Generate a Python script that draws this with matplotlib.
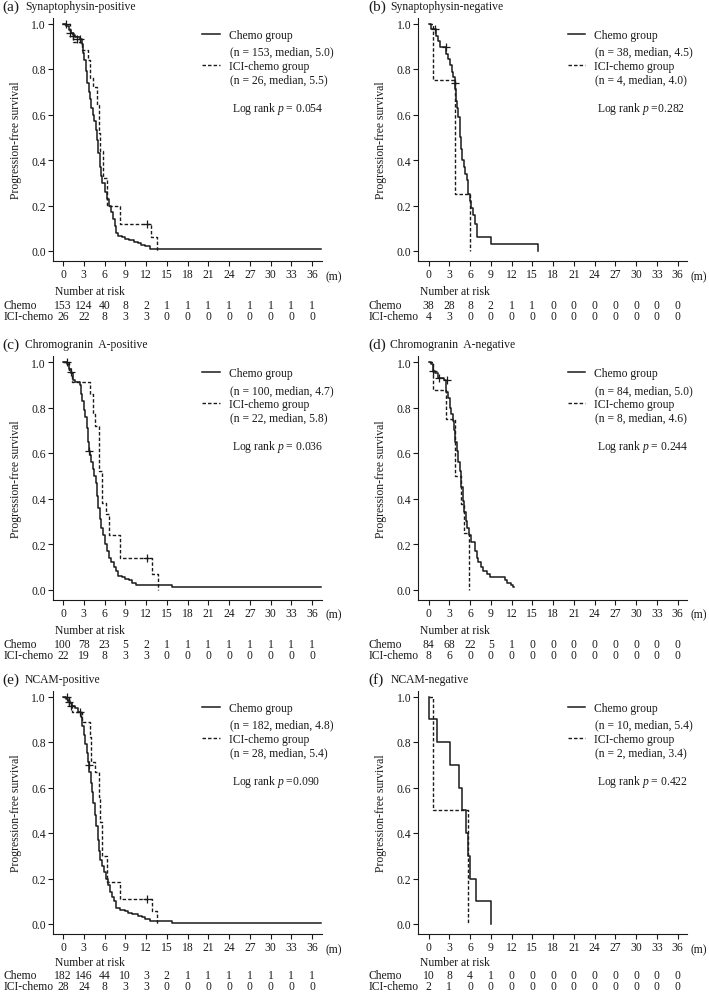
import matplotlib
matplotlib.use('Agg')
import matplotlib.pyplot as plt

plt.rcParams['font.family'] = ['Liberation Serif', 'DejaVu Serif']
plt.rcParams['mathtext.fontset'] = 'custom'
plt.rcParams['mathtext.rm'] = 'Liberation Serif'
plt.rcParams['mathtext.it'] = 'Liberation Serif:italic'

INK = '#1a1a1a'
FS = 8.4

# ---- data: (months, survival) step points ----
chemo_a = [(0, 1.0), (0.5, 0.99), (0.8, 0.97), (1.1, 0.96), (1.4, 0.95), (1.8, 0.94), (2.4, 0.93),
           (2.7, 0.91), (2.9, 0.87), (3.1, 0.84), (3.3, 0.79), (3.5, 0.74), (3.7, 0.70), (3.9, 0.67),
           (4.1, 0.63), (4.3, 0.60), (4.5, 0.57), (4.7, 0.53), (4.9, 0.49), (5.1, 0.43), (5.3, 0.37),
           (5.5, 0.33), (5.7, 0.30), (6.0, 0.26), (6.3, 0.23), (6.6, 0.20), (6.9, 0.17), (7.2, 0.14),
           (7.5, 0.11), (7.7, 0.08), (8.0, 0.065), (8.5, 0.06), (9.0, 0.053), (9.6, 0.047), (10.3, 0.04),
           (10.9, 0.035), (11.3, 0.028), (11.8, 0.02), (12.5, 0.01), (37.3, 0.01)]
ici_a = [(0, 1.0), (1.0, 0.96), (1.5, 0.92), (2.7, 0.885), (3.6, 0.84), (3.9, 0.76), (4.3, 0.72),
         (4.9, 0.64), (5.2, 0.52), (5.4, 0.44), (5.8, 0.32), (6.4, 0.20), (8.3, 0.12), (12.7, 0.06),
         (13.6, 0.0)]
chemo_b = [(0, 1.0), (0.3, 0.974), (1.1, 0.947), (1.4, 0.921), (1.6, 0.895), (2.6, 0.868), (2.8, 0.842),
           (3.1, 0.816), (3.4, 0.789), (3.6, 0.763), (3.8, 0.737), (3.9, 0.71), (4.0, 0.66), (4.1, 0.63),
           (4.2, 0.59), (4.5, 0.55), (4.6, 0.50), (4.7, 0.45), (4.9, 0.40), (5.1, 0.37), (5.3, 0.34),
           (5.5, 0.31), (5.7, 0.25), (6.0, 0.22), (6.2, 0.19), (6.5, 0.16), (6.7, 0.12), (7.0, 0.06),
           (9.0, 0.03), (15.8, 0.0)]
ici_b = [(0, 1.0), (0.6, 0.75), (3.9, 0.25), (6.0, 0.0)]
chemo_c = [(0, 1.0), (0.6, 0.99), (0.9, 0.97), (1.2, 0.95), (1.5, 0.92), (1.8, 0.91), (2.4, 0.90),
           (2.6, 0.86), (2.8, 0.83), (3.0, 0.79), (3.2, 0.76), (3.4, 0.71), (3.6, 0.65), (3.7, 0.61),
           (3.9, 0.59), (4.1, 0.56), (4.3, 0.53), (4.5, 0.50), (4.7, 0.47), (4.9, 0.41), (5.1, 0.36),
           (5.3, 0.31), (5.5, 0.27), (5.8, 0.24), (6.1, 0.20), (6.4, 0.17), (6.7, 0.14), (7.0, 0.12),
           (7.3, 0.10), (7.6, 0.08), (7.9, 0.06), (8.5, 0.055), (9.0, 0.045), (9.6, 0.04), (10.0, 0.03),
           (10.5, 0.02), (15.8, 0.01), (37.3, 0.01)]
ici_c = [(0, 1.0), (0.9, 0.955), (1.3, 0.91), (3.9, 0.86), (4.3, 0.77), (4.6, 0.72), (5.2, 0.52),
         (5.6, 0.38), (6.2, 0.33), (6.7, 0.24), (8.2, 0.14), (12.8, 0.07), (13.7, 0.0)]
chemo_d = [(0, 1.0), (0.3, 0.99), (0.6, 0.96), (1.0, 0.95), (1.35, 0.93), (2.3, 0.92), (2.6, 0.87),
           (2.8, 0.84), (3.05, 0.80), (3.3, 0.77), (3.5, 0.74), (3.7, 0.70), (3.9, 0.65), (4.1, 0.61),
           (4.3, 0.56), (4.5, 0.52), (4.75, 0.45), (5.0, 0.39), (5.2, 0.34), (5.4, 0.30), (5.6, 0.27),
           (5.85, 0.24), (6.2, 0.21), (6.7, 0.17), (7.0, 0.14), (7.2, 0.12), (7.6, 0.10), (7.9, 0.08),
           (8.4, 0.066), (8.9, 0.054), (11.0, 0.042), (11.4, 0.03), (11.9, 0.018), (12.2, 0.012),
           (12.4, 0.012)]
ici_d = [(0, 1.0), (0.6, 0.875), (2.6, 0.75), (3.8, 0.5), (4.75, 0.375), (5.2, 0.25), (5.8, 0.0)]
chemo_e = [(0, 1.0), (0.4, 0.99), (0.7, 0.98), (1.0, 0.97), (1.3, 0.96), (1.7, 0.95), (2.1, 0.93),
           (2.6, 0.91), (2.8, 0.87), (3.0, 0.83), (3.2, 0.79), (3.4, 0.75), (3.6, 0.71), (3.8, 0.67),
           (4.0, 0.62), (4.2, 0.58), (4.4, 0.53), (4.6, 0.48), (4.8, 0.43), (5.0, 0.37), (5.2, 0.32),
           (5.4, 0.28), (5.6, 0.255), (5.9, 0.23), (6.2, 0.20), (6.5, 0.17), (6.8, 0.14), (7.1, 0.12),
           (7.4, 0.10), (7.7, 0.07), (8.3, 0.06), (8.9, 0.055), (9.4, 0.05), (10.0, 0.045), (10.9, 0.036),
           (11.4, 0.03), (11.9, 0.022), (12.6, 0.013), (15.8, 0.005), (37.3, 0.005)]
ici_e = [(0, 1.0), (0.8, 0.964), (1.3, 0.93), (2.7, 0.89), (3.9, 0.82), (4.1, 0.71), (4.6, 0.67),
         (5.2, 0.56), (5.4, 0.45), (5.6, 0.30), (6.3, 0.185), (8.2, 0.11), (12.8, 0.055), (13.6, 0.0)]
chemo_f = [(0, 1.0), (0.1, 0.9), (1.25, 0.8), (3.1, 0.7), (4.4, 0.6), (4.9, 0.5), (5.4, 0.4),
           (5.75, 0.3), (5.95, 0.2), (6.8, 0.1), (9.1, 0.0)]
ici_f = [(0, 1.0), (0.7, 0.5), (5.75, 0.0)]

# censored observations (+)
cens_chemo = {
    'a': [(0.5, 1.0), (1.0, 0.96), (1.5, 0.945), (2.0, 0.93), (2.4, 0.93)],
    'b': [(0.9, 0.974), (2.6, 0.895), (3.8, 0.737)],
    'c': [(0.6, 1.0), (1.2, 0.955), (3.7, 0.61)],
    'd': [(0.7, 0.96), (1.5, 0.93), (2.7, 0.92)],
    'e': [(0.6, 1.0), (0.9, 0.975), (1.2, 0.96), (2.5, 0.93), (3.7, 0.70)],
    'f': [],
}
cens_ici = {'a': [(12.2, 0.12)], 'b': [], 'c': [(12.2, 0.14)], 'd': [], 'e': [(12.2, 0.11)], 'f': []}

letters = ['a', 'b', 'c', 'd', 'e', 'f']
titles = ['Synaptophysin-positive', 'Synaptophysin-negative', 'Chromogranin  A-positive',
          'Chromogranin  A-negative', 'NCAM-positive', 'NCAM-negative']
chemo_info = ['(n = 153, median, 5.0)', '(n = 38, median, 4.5)', '(n = 100, median, 4.7)',
              '(n = 84, median, 5.0)', '(n = 182, median, 4.8)', '(n = 10, median, 5.4)']
ici_info = ['(n = 26, median, 5.5)', '(n = 4, median, 4.0)', '(n = 22, median, 5.8)',
            '(n = 8, median, 4.6)', '(n = 28, median, 5.4)', '(n = 2, median, 3.4)']
p_text = ['= 0.054', '=0.282', '= 0.036', '= 0.244', '=0.090', '= 0.422']

risk_times = list(range(0, 37, 3))
risk_chemo = [[153, 124, 40, 8, 2, 1, 1, 1, 1, 1, 1, 1, 1],
              [38, 28, 8, 2, 1, 1, 0, 0, 0, 0, 0, 0, 0],
              [100, 78, 23, 5, 2, 1, 1, 1, 1, 1, 1, 1, 1],
              [84, 68, 22, 5, 1, 0, 0, 0, 0, 0, 0, 0, 0],
              [182, 146, 44, 10, 3, 2, 1, 1, 1, 1, 1, 1, 1],
              [10, 8, 4, 1, 0, 0, 0, 0, 0, 0, 0, 0, 0]]
risk_ici = [[26, 22, 8, 3, 3, 0, 0, 0, 0, 0, 0, 0, 0],
            [4, 3, 0, 0, 0, 0, 0, 0, 0, 0, 0, 0, 0],
            [22, 19, 8, 3, 3, 0, 0, 0, 0, 0, 0, 0, 0],
            [8, 6, 0, 0, 0, 0, 0, 0, 0, 0, 0, 0, 0],
            [28, 24, 8, 3, 3, 0, 0, 0, 0, 0, 0, 0, 0],
            [2, 1, 0, 0, 0, 0, 0, 0, 0, 0, 0, 0, 0]]

chemo_curves = [chemo_a, chemo_b, chemo_c, chemo_d, chemo_e, chemo_f]
ici_curves = [ici_a, ici_b, ici_c, ici_d, ici_e, ici_f]

# ---- layout (pixels of the 709x995 canvas) ----
W, H = 709, 995
fig = plt.figure(figsize=(W / 100, H / 100), dpi=100)
col_x0 = [63, 428.5]      # pixel of t = 0
row_y0 = [252, 590.5, 925]  # pixel of S = 0
px_t, px_s = 6.92, 227.5
xlim = (-1.5, 37.4)
ylim = (-0.044, 1.025)
dash = (0, (2.5, 1.5))
# rows of the number-at-risk table, in survival units below the axis
row_head_y = [-0.176, -0.176, -0.168]
row_chemo_y = [-0.239, -0.239, -0.224]
row_ici_y = [-0.287, -0.287, -0.272]

for i, key in enumerate(letters):
    r, c = divmod(i, 2)
    left = col_x0[c] + xlim[0] * px_t
    width = (xlim[1] - xlim[0]) * px_t
    top = row_y0[r] - ylim[1] * px_s
    height = (ylim[1] - ylim[0]) * px_s
    ax = fig.add_axes([left / W, 1 - (top + height) / H, width / W, height / H])

    t, s = zip(*chemo_curves[i])
    ax.step(t, s, where='post', color=INK, lw=1.1)
    t, s = zip(*ici_curves[i])
    ax.step(t, s, where='post', color=INK, lw=1.0, linestyle=dash)
    if cens_chemo[key]:
        ct, cs = zip(*cens_chemo[key])
        ax.plot(ct, cs, '+', color=INK, ms=6, mew=0.9)
    if cens_ici[key]:
        ct, cs = zip(*cens_ici[key])
        ax.plot(ct, cs, '+', color=INK, ms=6, mew=0.9)

    ax.set_xlim(*xlim)
    ax.set_ylim(*ylim)
    ax.set_xticks(risk_times)
    ax.set_yticks([0, 0.2, 0.4, 0.6, 0.8, 1.0])
    ax.set_yticklabels(['0.0', '0.2', '0.4', '0.6', '0.8', '1.0'])
    ax.tick_params(axis='both', labelsize=FS, length=3.6, width=0.8, color=INK, labelcolor=INK)
    ax.tick_params(axis='x', pad=1.5)
    ax.tick_params(axis='y', pad=1.2)
    for sp in ['top', 'right']:
        ax.spines[sp].set_visible(False)
    for sp in ['left', 'bottom']:
        ax.spines[sp].set_linewidth(0.8)
        ax.spines[sp].set_color(INK)
    ax.set_ylabel('Progression-free survival', fontsize=FS, color=INK)
    ax.yaxis.set_label_coords(-0.115, 0.5)

    # panel title
    ax.text(-8.7, 1.077, '(%s)' % key, fontsize=11, color=INK, ha='left', va='center', clip_on=False)
    ax.text(-5.5, 1.077, titles[i], fontsize=FS, color=INK, ha='left', va='center', clip_on=False)

    # legend
    h1, = ax.plot([], [], color=INK, lw=1.1)
    h2, = ax.plot([], [], color=INK, lw=1.0, linestyle=dash)
    ax.legend([h1, h2], ['Chemo group', 'ICI-chemo group'], loc='upper left',
              bbox_to_anchor=(0.555, 0.955), frameon=False, fontsize=FS, borderpad=0,
              borderaxespad=0, handlelength=1.5, handletextpad=0.8, labelspacing=1.62,
              labelcolor=INK)
    ax.text(24.1, 0.876, chemo_info[i], fontsize=FS, color=INK, va='center')
    ax.text(24.1, 0.755, ici_info[i], fontsize=FS, color=INK, va='center')
    ax.text(24.4, 0.63, 'Log rank $\\it{p}$ ' + p_text[i], fontsize=FS, color=INK, va='center')

    # axis unit and numbers at risk
    ax.text(39.1, -0.11, '(m)', fontsize=FS, color=INK, ha='center', va='center', clip_on=False)
    ax.text(-1.2, row_head_y[r], 'Number at risk', fontsize=FS, color=INK, ha='left', va='center',
            clip_on=False)
    yc, yi = row_chemo_y[r], row_ici_y[r]
    ax.text(-8.6, yc, 'Chemo', fontsize=FS, color=INK, ha='left', va='center', clip_on=False)
    ax.text(-8.6, yi, 'ICI-chemo', fontsize=FS, color=INK, ha='left', va='center', clip_on=False)
    for tt, n1, n2 in zip(risk_times, risk_chemo[i], risk_ici[i]):
        ax.text(tt, yc, str(n1), fontsize=FS, color=INK, ha='center', va='center', clip_on=False)
        ax.text(tt, yi, str(n2), fontsize=FS, color=INK, ha='center', va='center', clip_on=False)

fig.savefig('out.png', dpi=100)
